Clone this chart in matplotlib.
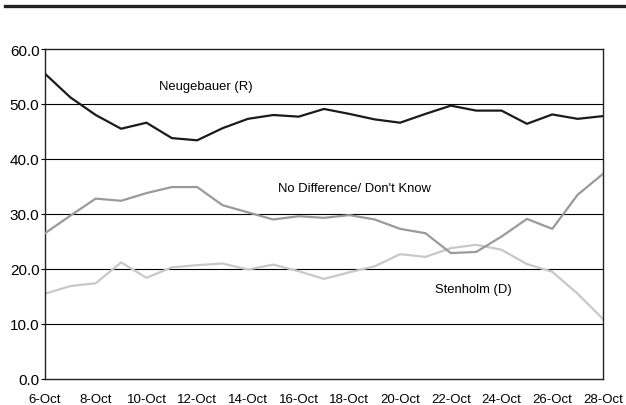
import matplotlib.pyplot as plt
import numpy as np

plt.rcParams['font.family'] = ['Liberation Sans', 'DejaVu Sans']

# Daily tracking poll, 6-Oct .. 28-Oct
days = [f"{d}-Oct" for d in range(6, 29)]
neugebauer = [55.5, 51.2, 48.0, 45.5, 46.6, 43.8, 43.4, 45.6, 47.3, 48.0, 47.7, 49.1,
              48.2, 47.2, 46.6, 48.2, 49.7, 48.8, 48.8, 46.4, 48.1, 47.3, 47.8]
no_difference = [26.5, 29.7, 32.8, 32.4, 33.8, 34.9, 34.9, 31.6, 30.3, 29.0, 29.6, 29.3,
                 29.8, 29.0, 27.3, 26.5, 22.9, 23.1, 25.9, 29.1, 27.3, 33.5, 37.3]
stenholm = [15.5, 16.9, 17.4, 21.2, 18.4, 20.3, 20.7, 21.0, 19.9, 20.8, 19.6, 18.2,
            19.4, 20.5, 22.7, 22.2, 23.8, 24.4, 23.5, 20.9, 19.5, 15.5, 10.9]
yticks = [0, 10, 20, 30, 40, 50, 60]

x = np.arange(len(days))

fig = plt.figure(figsize=(6.26, 4.06), dpi=100)
ax = fig.add_axes([45 / 626, 1 - 380 / 406, 558 / 626, 330 / 406])

# heavy rule across the top of the figure
fig.add_artist(plt.Line2D([5 / 626, 1.0], [1 - 6.5 / 406] * 2, color='#222222', lw=2.4))

for v in yticks[1:-1]:
    ax.axhline(v, color='black', lw=0.8, zorder=1)

ax.plot(x, stenholm, color='#c8c8c8', lw=1.6, zorder=2)
ax.plot(x, no_difference, color='#9a9a9a', lw=1.6, zorder=3)
ax.plot(x, neugebauer, color='#1a1a1a', lw=1.6, zorder=4)

ax.set_xlim(0, len(days) - 1)
ax.set_ylim(0, 60)
ax.set_yticks(yticks)
ax.set_yticklabels([f"{v:.1f}" for v in yticks], fontsize=11)
ax.set_xticks(x[::2])
ax.set_xticklabels(days[::2], fontsize=9.5)
ax.tick_params(axis='x', length=0, pad=10)
ax.tick_params(axis='y', length=3, width=0.8, pad=1)
for s in ax.spines.values():
    s.set_linewidth(1.0)
    s.set_color('#222222')

ax.text(6.35, 53.3, "Neugebauer (R)", fontsize=9.4, ha='center', va='center')
ax.text(12.2, 34.7, "No Difference/ Don't Know", fontsize=9.4, ha='center', va='center')
ax.text(16.9, 16.4, "Stenholm (D)", fontsize=9.4, ha='center', va='center')

fig.savefig('out.png', dpi=100)
